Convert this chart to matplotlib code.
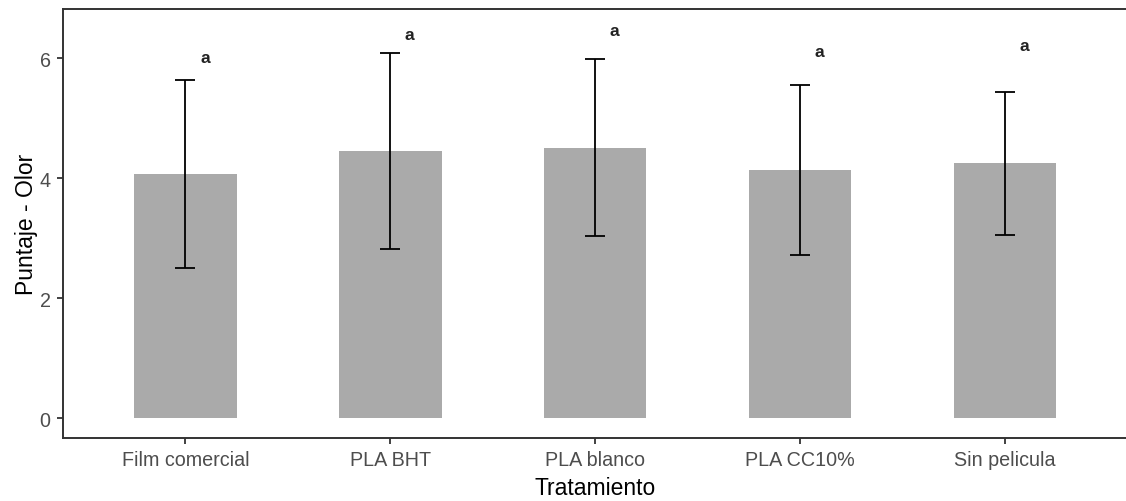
import numpy as np
import matplotlib
matplotlib.use("Agg")
import matplotlib.pyplot as plt

# mean score and standard deviation per treatment
tratamientos = ["Film comercial", "PLA BHT", "PLA blanco", "PLA CC10%", "Sin pelicula"]
media = [4.07, 4.45, 4.51, 4.14, 4.25]
desv = [1.57, 1.63, 1.47, 1.42, 1.19]
letras = ["a", "a", "a", "a", "a"]
letra_y = [6.02, 6.40, 6.47, 6.11, 6.21]

plt.rcParams['font.family'] = ['Liberation Sans', 'DejaVu Sans']

fig = plt.figure(figsize=(11.26, 5.02), dpi=100)
W, H = 1126, 502
ax = fig.add_axes([62.5 / W, (H - 439) / H, (1128 - 62.5) / W, (439 - 9.5) / H])

x = np.arange(len(tratamientos))
ax.bar(x, media, width=0.5, color='#aaaaaa', zorder=1)
ax.errorbar(x, media, yerr=desv, fmt='none', ecolor='black', elinewidth=1.3,
            capsize=7.2, capthick=1.3, zorder=2)

for xi, yl, l in zip(x, letra_y, letras):
    ax.text(xi + 0.095, yl, l, ha='center', va='center', fontsize=12.5,
            fontweight='bold', color='#222222')

ax.set_xlim(-0.6, 4.6)
ax.set_ylim(-0.33, 6.83)
ax.set_xticks(x)
ax.set_xticklabels(tratamientos)
ax.set_yticks([0, 2, 4, 6])

for s in ax.spines.values():
    s.set_color('#333333')
    s.set_linewidth(1.4)
ax.tick_params(axis='both', colors='#333333', length=4.5, width=1.3,
               labelsize=14.2, labelcolor='#4d4d4d', pad=4)

ax.set_xlabel("Tratamiento", fontsize=16.5, color='black', labelpad=5)
ax.set_ylabel("Puntaje - Olor", fontsize=16.5, color='black', labelpad=1)

fig.savefig("out.png", dpi=100)
